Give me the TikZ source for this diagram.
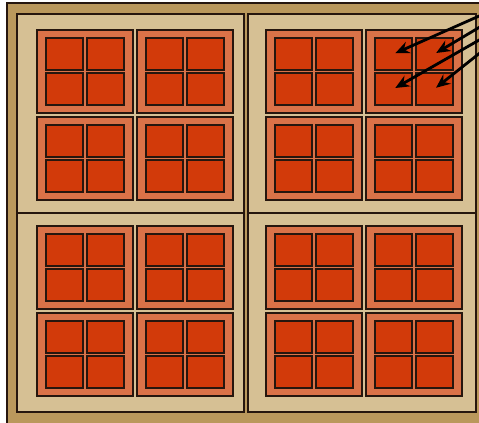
\documentclass[tikz,border=0pt]{standalone}
\usepackage{tikz}
\usetikzlibrary{arrows.meta, positioning, calc}

\definecolor{frameBrown}{RGB}{186,152,92}
\definecolor{quadTan}{RGB}{214,192,148}
\definecolor{tileOrange}{RGB}{218,114,72}
\definecolor{coreRed}{RGB}{210,58,10}
\definecolor{edgeDark}{RGB}{38,22,14}

\begin{document}
\begin{tikzpicture}[
        x=0.5pt, y=-0.5pt,
        >=Stealth,
        frame/.style={draw=edgeDark, line width=0.8pt, fill=frameBrown},
        quad/.style={draw=edgeDark, line width=0.9pt, fill=quadTan},
        tile/.style={rectangle, draw=edgeDark, line width=1pt, fill=tileOrange, minimum width=48pt, minimum height=41.5pt, inner sep=0pt},
        core/.style={rectangle, draw=edgeDark, line width=1pt, fill=coreRed, minimum width=18.5pt, minimum height=16pt, inner sep=0pt},
        feed/.style={draw=black, line width=1.4pt, shorten >=1pt, -{Stealth[length=7pt, width=6pt]}}
    ]
    \useasboundingbox (0,0) rectangle (479,423);

    % 1. Khung ngoai va bon vung
    \draw[frame] (7,3) rectangle (495,440);
    \draw[quad] (17,14) rectangle (244,213);
    \draw[quad] (248,14) rectangle (476,213);
    \draw[quad] (17,213) rectangle (244,412);
    \draw[quad] (248,213) rectangle (476,412);

    % 2. Cac khoi cam va bon o do ben trong
    \foreach \tx [count=\ci] in {37,137,266,366}{
        \foreach \ty [count=\ri] in {30,117,226,313}{
            \node[tile] (tile-\ri-\ci) at (\tx+48,\ty+41.5) {};
            \node[core] (core-\ri-\ci-a) at (\tx+27.5,\ty+24) {};
            \node[core] (core-\ri-\ci-b) at (\tx+68.5,\ty+24) {};
            \node[core] (core-\ri-\ci-c) at (\tx+27.5,\ty+59) {};
            \node[core] (core-\ri-\ci-d) at (\tx+68.5,\ty+59) {};
        }
    }

    % 3. Mui ten tu ben phai vao o tren cung
    \coordinate (src-a) at (495,9);
    \coordinate (src-b) at (495,18);
    \coordinate (src-c) at (495,31);
    \coordinate (src-d) at (495,41);
    \draw[feed] (src-a) -- (core-1-4-a.center);
    \draw[feed] (src-b) -- (core-1-4-b.center);
    \draw[feed] (src-c) -- (core-1-4-c.center);
    \draw[feed] (src-d) -- (core-1-4-d.center);

\end{tikzpicture}
\end{document}
